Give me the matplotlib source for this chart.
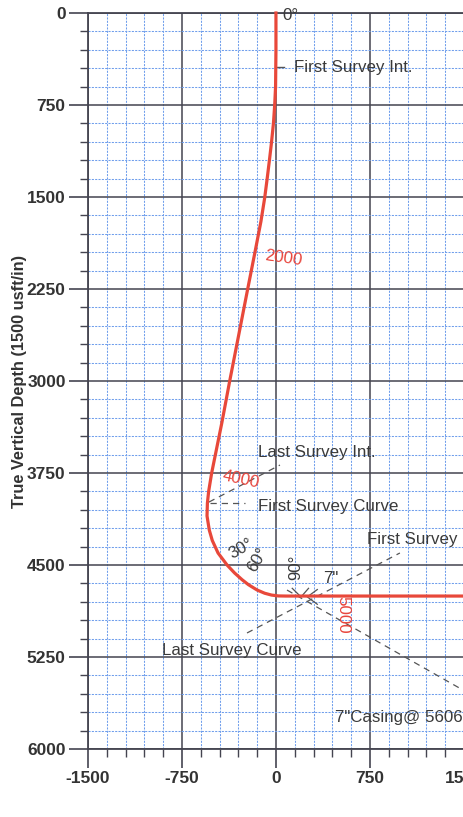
import matplotlib
matplotlib.use("Agg")
import matplotlib.pyplot as plt
from matplotlib.ticker import MultipleLocator

plt.rcParams['font.family'] = ['Liberation Sans', 'DejaVu Sans']

# Well path (vertical section, TVD)
vsec = [0, 0, -3, -10, -20, -36, -52, -70, -90, -120, -164, -227, -305, -369, -432,
        -513, -537, -547, -550, -532, -508, -462, -390, -330, -270, -220, -150, -90,
        -35, 20, 80, 1500]
tvd = [0, 300, 600, 750, 900, 1060, 1200, 1350, 1508, 1700, 1932, 2258, 2666, 3000, 3342,
       3750, 3900, 3995, 4100, 4215, 4300, 4402, 4500, 4565, 4620, 4660, 4704, 4730,
       4745, 4752, 4753, 4753]

xticks = [-1500, -750, 0, 750, 1500]
yticks = [0, 750, 1500, 2250, 3000, 3750, 4500, 5250, 6000]

# Annotation leader lines (x pairs, tvd pairs)
leaders = [
    ([-535, 32], [3987, 3685]),     # Last Survey Int.
    ([-527, -247], [3995, 3995]),   # First Survey Curve
    ([-231, 989], [5054, 4402]),    # First Survey Int. (lateral)
    ([88, 1492], [4704, 5519]),     # 7" casing
]
first_int_dash = ([0, 64], [440, 440])

labels = [
    ("0°", 112, 24, 0, 'center', '#3a3a3a'),
    ("First Survey Int.", 144, 448, 0, 'left', '#3a3a3a'),
    ("2000", 56, 1997, -8, 'center', '#e8453c'),
    ("Last Survey Int.", -144, 3579, 0, 'left', '#3a3a3a'),
    ("4000", -279, 3799, -12, 'center', '#e8453c'),
    ("First Survey Curve", -144, 4027, 0, 'left', '#3a3a3a'),
    ("First Survey Int.", 726, 4296, 0, 'left', '#3a3a3a'),
    ("30°", -279, 4369, 30, 'center', '#3a3a3a'),
    ("60°", -144, 4459, 60, 'center', '#3a3a3a'),
    ("90°", 160, 4516, 90, 'center', '#3a3a3a'),
    ("7\"", 439, 4606, 0, 'center', '#3a3a3a'),
    ("5000", 535, 4907, -90, 'center', '#e8453c'),
    ("Last Survey Curve", -910, 5193, 0, 'left', '#3a3a3a'),
    ("7\"Casing@ 5606", 471, 5747, 0, 'left', '#3a3a3a'),
]

fig = plt.figure(figsize=(4.63, 8.17), dpi=100)
ax = fig.add_axes([0.190, 0.0832, 0.812, 0.9009])
ax.set_xlim(-1500, 1500)
ax.set_ylim(6000, 0)

ax.xaxis.set_minor_locator(MultipleLocator(150))
ax.yaxis.set_minor_locator(MultipleLocator(150))
ax.set_xticks(xticks)
ax.set_yticks(yticks)
ax.set_xticklabels([str(v) for v in xticks])
ax.set_yticklabels([str(v) for v in yticks])

ax.grid(which='minor', color='#6f9eec', linestyle=(0, (2, 1.2)), linewidth=0.75, zorder=0)
ax.grid(which='major', color='#444450', linestyle='-', linewidth=1.1, zorder=1)
ax.set_axisbelow(True)

ax.spines['right'].set_visible(False)
for s in ['left', 'top', 'bottom']:
    ax.spines[s].set_color('#444450')
    ax.spines[s].set_linewidth(1.3)

ax.tick_params(which='major', length=14, width=1.2, color='#444450', pad=2,
               labelsize=12.5, labelcolor='#333333')
ax.tick_params(which='minor', length=6, width=1.0, color='#444450')
for lab in ax.get_xticklabels() + ax.get_yticklabels():
    lab.set_fontweight('bold')

ax.set_ylabel("True Vertical Depth (1500 usft/in)", fontsize=11.8, fontweight='bold',
              color='#333333', labelpad=0)

for xs, ys in leaders:
    ax.plot(xs, ys, color='#555555', linestyle=(0, (5, 4)), linewidth=0.9, zorder=3)
ax.plot(first_int_dash[0], first_int_dash[1], color='#555555', linewidth=1.0, zorder=3)

# casing shoe symbol
ax.plot([130, 200, 260], [4690, 4760, 4690], color='#555555', linewidth=0.9, zorder=3)
ax.plot([330, 250, 330], [4700, 4760, 4820], color='#555555', linewidth=0.9, zorder=3)

ax.plot(vsec, tvd, color='#e8483a', linewidth=2.3, zorder=4, clip_on=False,
        solid_joinstyle='round')

for txt, x, y, rot, ha, col in labels:
    ax.text(x, y, txt, rotation=rot, ha=ha, va='center', fontsize=12.2, color=col,
            zorder=5, rotation_mode='anchor')

fig.savefig("out.png", dpi=100)
